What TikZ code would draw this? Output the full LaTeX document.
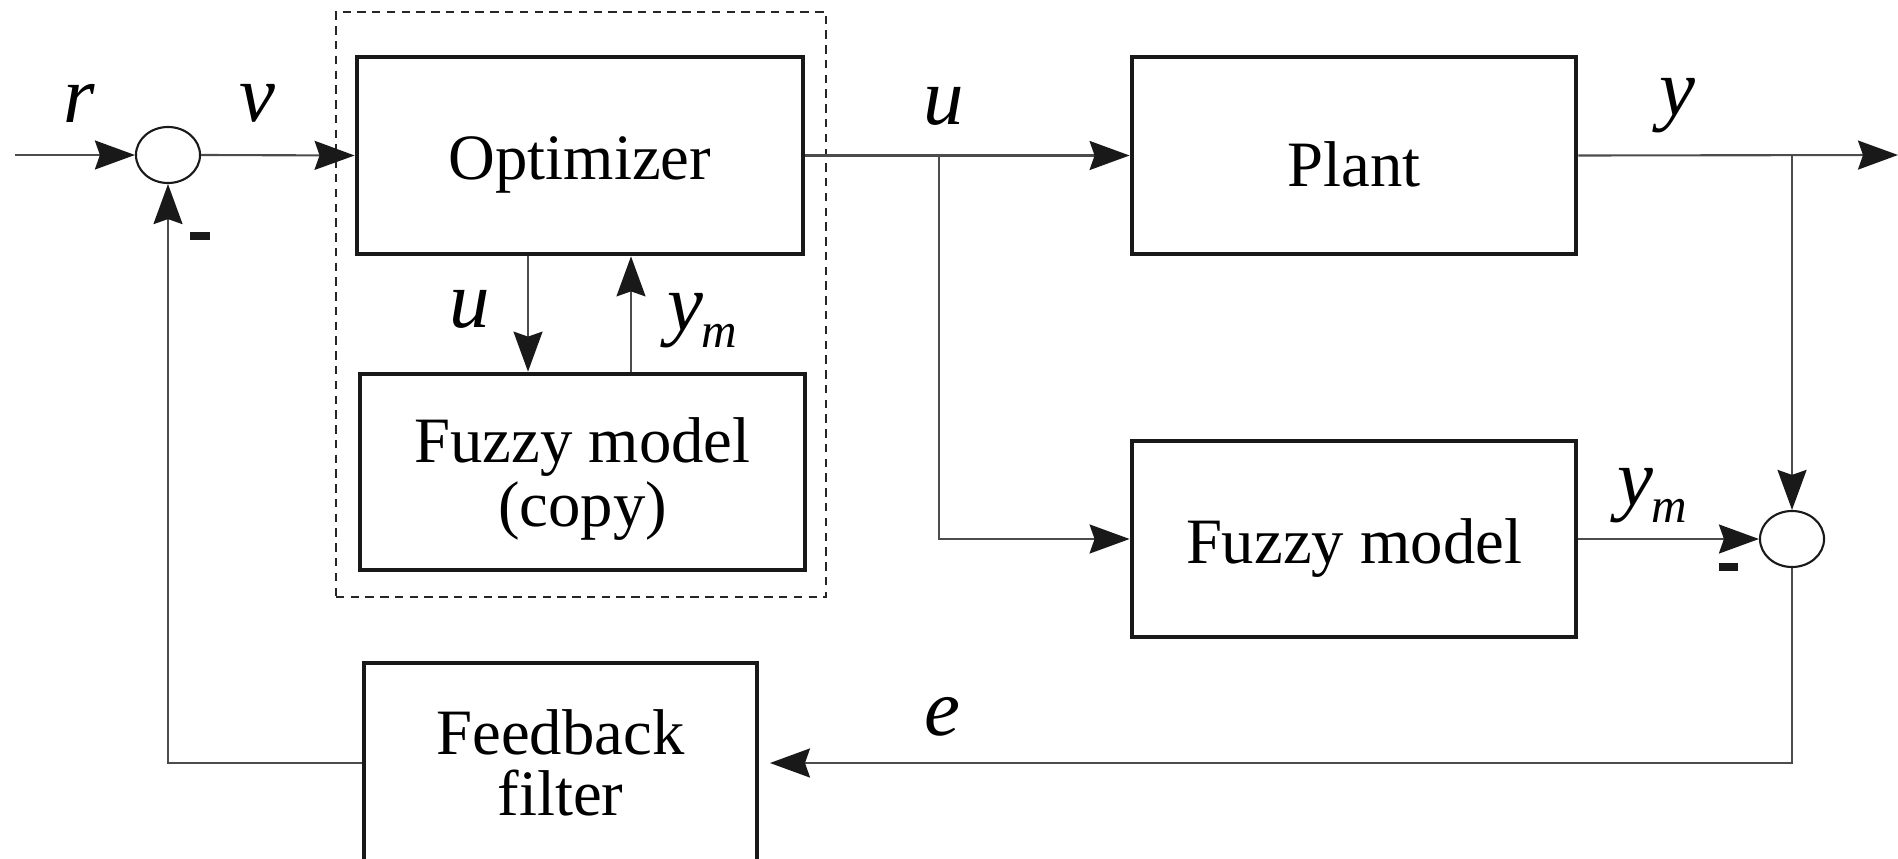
\documentclass[tikz,border=0pt]{standalone}
\usepackage{fontspec}
\setmainfont{Liberation Serif}
\usetikzlibrary{arrows.meta,shapes.geometric}
\newcommand\ymlab{{\itshape y}\kern-0.5pt\raisebox{-0.45ex}{\fontsize{14}{14}\selectfont\itshape m}}
\newcommand\dn[1]{\raisebox{-2.6pt}[\height][\depth]{#1}}
\begin{document}
\begin{tikzpicture}[x=0.01cm,y=-0.01cm,
  blk/.style={draw=black!90, line width=1.3pt, inner sep=0pt, align=center,
    font=\fontsize{18.4}{17.5}\selectfont},
  sumc/.style={ellipse, draw=black!90, line width=0.6pt, minimum width=0.64cm,
    minimum height=0.56cm, inner sep=0pt},
  conn/.style={draw=black!70, line width=0.6pt},
  arr/.style={conn, -{Stealth[length=4mm,width=2.9mm,inset=0.5mm,color=black!90]}},
  lab/.style={font=\fontsize{23}{23}\selectfont\itshape, inner sep=0pt},
  minusbar/.style={fill=black!90, minimum width=0.19cm, minimum height=0.075cm, inner sep=0pt},
  dashbox/.style={draw=black!85, line width=0.6pt, dash pattern=on 2.4pt off 1.8pt, inner sep=0pt}
]
\useasboundingbox (0,0) rectangle (1898,858);

% group frame
\node[dashbox, minimum width=4.90cm, minimum height=5.85cm] (grp) at (581,304.5) {};

% blocks
\node[blk, minimum width=4.46cm, minimum height=1.97cm] (opt) at (580,155.5) {\dn{Optimizer}};
\node[blk, minimum width=4.45cm, minimum height=1.96cm] (fmc) at (582.5,472)
  {\dn{\begin{tabular}{@{}c@{}}Fuzzy model\\(copy)\end{tabular}}};
\node[blk, minimum width=4.44cm, minimum height=1.97cm] (plant) at (1354,155.5) {\dn{Plant}};
\node[blk, minimum width=4.44cm, minimum height=1.96cm] (fm) at (1354,539) {\dn{Fuzzy model}};
\node[blk, minimum width=3.93cm, minimum height=2.00cm] (ff) at (560.5,763) {Feedback\\filter};

% summing junctions
\node[sumc] (s1) at (168,155) {};
\node[sumc] (s2) at (1792,539) {};

% coordinates
\coordinate (in) at (15,155);
\coordinate (out) at (1898,155);
\coordinate (bu) at (939,155);
\coordinate (by) at (1792,155);
\coordinate (ce) at (1792,763);
\coordinate (cf) at (168,763);

% connectors
\draw[arr] (in) -- (s1.west);
\draw[arr] (s1.east) -- (opt.west);
\draw[arr] (opt.east) -- (plant.west);
\draw[arr] (bu) |- (fm.west);
\draw[arr] (plant.east) -- (out);
\draw[arr] (by) -- (s2.north);
\draw[arr] (fm.east) -- (s2.west);
\draw[arr, shorten >=3pt] (s2.south) -- (ce) -- (ff.east);
\draw[arr] (ff.west) -- (cf) -- (s1.south);
\draw[arr] (opt.south -| 528,0) -- (fmc.north -| 528,0);
\draw[arr] (fmc.north -| 631,0) -- (opt.south -| 631,0);

% minus signs
\node[minusbar] (m1) at (200,236) {};
\node[minusbar] (m2) at (1728,567) {};

% labels
\node[lab] (lr) at (79,103) {r};
\node[lab] (lv) at (257,103) {v};
\node[lab] (lu) at (944,106) {u};
\node[lab] (ly) at (1677,106) {y};
\node[lab] (lu2) at (470,309) {u};
\node[lab] (lym) at (702,321) {\ymlab};
\node[lab] (lym2) at (1652,496) {\ymlab};
\node[lab] (le) at (942,717) {e};
\end{tikzpicture}
\end{document}
